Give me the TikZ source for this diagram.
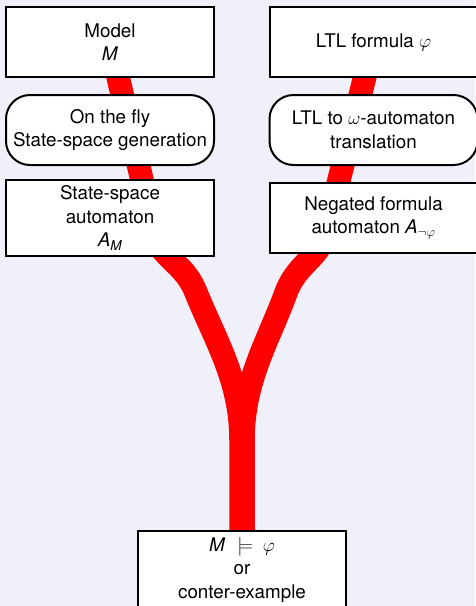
\RequirePackage{fix-cm}
\documentclass[tikz,border=0pt]{standalone}
\usepackage{fontspec}
\setmainfont{TeX Gyre Heros}
\usetikzlibrary{calc}
\definecolor{bgcol}{RGB}{240,240,250}
\pgfdeclarelayer{bg}
\pgfsetlayers{bg,main}
\tikzset{
  box/.style={draw=black, line width=2pt, fill=white, minimum width=208pt,
    minimum height=70pt, inner sep=0pt, align=center,
    font=\fontsize{18.8}{23.6}\selectfont},
  roundbox/.style={box, rounded corners=24pt},
  flow/.style={draw=red, line width=23.5pt, line join=round}
}
\begin{document}
\begin{tikzpicture}[x=1pt,y=-1pt]
\useasboundingbox (0,0) rectangle (475,606);
\node[box] (model) at (110,42) {Model\\\textit{M}};
\node[roundbox] (fly) at (110,130) {On the fly\\State-space generation};
\node[box, minimum height=76pt] (ssa) at (110,218)
  {State-space\\automaton\\\textit{A}\raisebox{-3.3pt}{\fontsize{13.5}{13.5}\selectfont\textit{M}}};
\node[box] (ltl) at (373.5,42) {LTL formula $\varphi$};
\node[roundbox] (trans) at (373.5,130) {LTL to $\omega$-automaton\\translation};
\node[box] (neg) at (373.5,218) {Negated formula\\automaton \textit{A}$_{\neg\varphi}$};
\node[box, minimum height=78pt, anchor=north] (result) at (242,530)
  {\textit{M}\hspace{12pt}$\models$\hspace{10pt}$\varphi$\\[-0.6pt]or\\conter-example};
\coordinate (l1) at (154,232);
\coordinate (l2) at (195,290);
\coordinate (l3) at (241,440);
\coordinate (r1) at (326,232);
\coordinate (r2) at (287,290);
\coordinate (r3) at (243,440);
\begin{pgfonlayer}{bg}
  \fill[bgcol] (0,0) rectangle (475,606);
  \draw[flow] (model.center) -- (l1) .. controls (160,258) and (183,262) .. (l2)
    .. controls (215,340) and (241,380) .. (l3) -- ($(result.center)+(-1,0)$);
  \draw[flow] (ltl.center) -- (r1) .. controls (319.5,258) and (299,262) .. (r2)
    .. controls (269,340) and (243,380) .. (r3) -- ($(result.center)+(1,0)$);
\end{pgfonlayer}
\end{tikzpicture}
\end{document}
